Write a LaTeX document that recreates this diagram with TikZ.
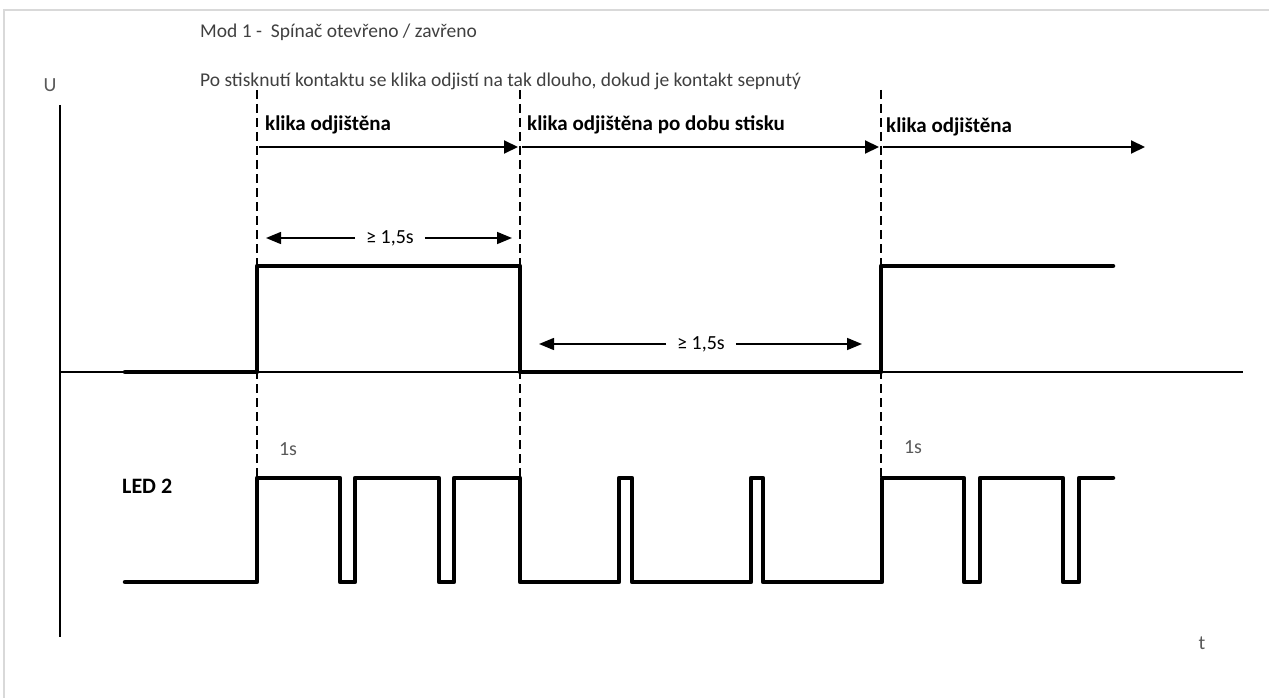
\documentclass[tikz,border=0pt]{standalone}
\usepackage{fontspec}
\setmainfont{Carlito}
\usetikzlibrary{arrows.meta}

\definecolor{textgray}{HTML}{404040}
\definecolor{softgray}{HTML}{595959}
\definecolor{framegray}{HTML}{D9D9D9}

\begin{document}
\begin{tikzpicture}[x=1pt,y=-1pt]
        \tikzstyle{txt} = [inner sep=0pt, text=textgray, font=\fontsize{19.5}{23}\selectfont]
        \tikzstyle{axislabel} = [inner sep=0pt, text=softgray, font=\fontsize{20}{24}\selectfont]
        \tikzstyle{phase} = [inner sep=0pt, anchor=west, font=\bfseries\fontsize{21}{25}\selectfont]
        \tikzstyle{period} = [inner sep=0pt, inner xsep=11pt, font=\fontsize{20}{24}\selectfont]
        \tikzstyle{signal} = [line width=4.5pt, line join=round, line cap=round]
        \tikzstyle{marker} = [line width=1.8pt, dash pattern=on 9pt off 5pt]
        \tikzstyle{arrow} = [line width=2pt, -{Triangle[length=14pt,width=13pt]}]
        \tikzstyle{dimarrow} = [line width=1.5pt, -{Triangle[length=15pt,width=12pt]}]

        \useasboundingbox (0,0) rectangle (1269,698);
        \draw [framegray, line width=2pt] (4,698) -- (4,10) -- (1269,10);

        % Nodes
        \node (mode) [txt, anchor=west] at (200,32) {Mod 1 -\ \ Spínač otevřeno / zavřeno};
        \node (desc) [txt, anchor=west] at (200,81) {Po stisknutí kontaktu se klika odjistí na tak dlouho, dokud je kontakt sepnutý};
        \node (ulabel) [axislabel] at (50,85) {U};
        \node (tlabel) [axislabel] at (1202,643) {t};
        \node (led) [phase, font=\bfseries\fontsize{22}{26}\selectfont] at (122,486) {LED 2};
        \node (first) [phase] at (265,125) {klika odjištěna};
        \node (second) [phase] at (527,125) {klika odjištěna po dobu stisku};
        \node (third) [phase] at (886,127) {klika odjištěna};
        \node (blinkA) [axislabel] at (288,449) {1s};
        \node (blinkB) [axislabel] at (913,447) {1s};
        \node (holdA) [period] at (390,238) {≥ 1,5s};
        \node (holdB) [period] at (701,344) {≥ 1,5s};

        % Axes
        \coordinate (utop) at (60,105);
        \coordinate (ubottom) at (60,637);
        \coordinate (tstart) at (60,372);
        \coordinate (tend) at (1243,372);
        \draw [line width=1.2pt] (utop) -- (ubottom);
        \draw [line width=1.2pt] (tstart) -- (tend);

        % Switching moments
        \coordinate (m1) at (257,90);
        \coordinate (m2) at (520,90);
        \coordinate (m3) at (881,90);
        \draw [marker] (m1) -- (257,478);
        \draw [marker] (m2) -- (520,478);
        \draw [marker] (m3) -- (881,478);

        % Signals
        \draw [signal] (125,372) -- (257,372) -- (257,266) -- (520,266) -- (520,372)
              -- (881,372) -- (881,266) -- (1113,266);
        \draw [signal] (125,582) -- (257,582) -- (257,478) -- (340,478) -- (340,582)
              -- (355,582) -- (355,478) -- (439,478) -- (439,582) -- (454,582)
              -- (454,478) -- (520,478) -- (520,582) -- (619,582) -- (619,478)
              -- (632,478) -- (632,582) -- (751,582) -- (751,478) -- (763,478)
              -- (763,582) -- (882,582) -- (882,478) -- (964,478) -- (964,582)
              -- (980,582) -- (980,478) -- (1063,478) -- (1063,582) -- (1079,582)
              -- (1079,478) -- (1113,478);

        % Arrows
        \coordinate (s1) at (259,147);
        \coordinate (e1) at (518,147);
        \coordinate (s2) at (522,147);
        \coordinate (e2) at (879,147);
        \coordinate (s3) at (883,147);
        \coordinate (e3) at (1145,147);
        \draw [arrow] (s1) -- (e1);
        \draw [arrow] (s2) -- (e2);
        \draw [arrow] (s3) -- (e3);

        \coordinate (holdAleft) at (266,238);
        \coordinate (holdAright) at (512,238);
        \coordinate (holdBleft) at (539,344);
        \coordinate (holdBright) at (862,344);
        \draw [dimarrow] (holdA.west) -- (holdAleft);
        \draw [dimarrow] (holdA.east) -- (holdAright);
        \draw [dimarrow] (holdB.west) -- (holdBleft);
        \draw [dimarrow] (holdB.east) -- (holdBright);

    \end{tikzpicture}
\end{document}
